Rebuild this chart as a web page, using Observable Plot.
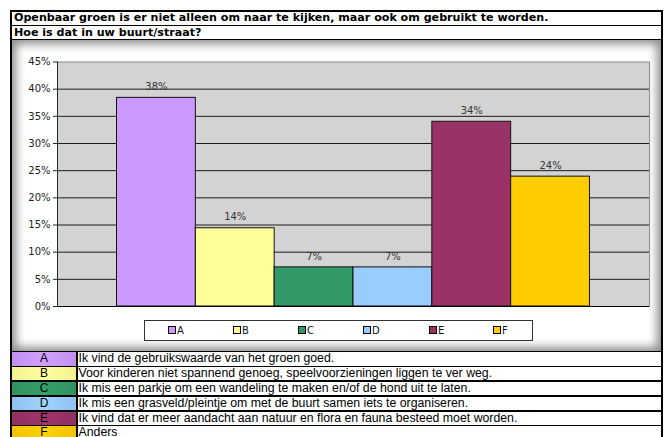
<!DOCTYPE html>
<html><head><meta charset="utf-8">
<script src="https://cdn.jsdelivr.net/npm/d3@7"></script>
<script src="https://cdn.jsdelivr.net/npm/@observablehq/plot@0.6"></script>
<style>
html,body{margin:0;padding:0;background:#fff;}
body{width:667px;height:437px;overflow:hidden;position:relative;font-family:"DejaVu Sans",Verdana,sans-serif;}
.abs{position:absolute;}
#outer{left:10px;top:10px;width:653px;height:440px;background:#000;}
.title{left:12px;width:649px;background:#fff;font-family:"DejaVu Sans",Verdana,sans-serif;font-weight:bold;font-size:11.1px;color:#000;padding-left:2px;box-sizing:border-box;white-space:nowrap;}
#chart{left:12px;top:39.5px;width:649px;height:311px;background:#fff;box-shadow:inset 0 0 10px 4px rgba(0,0,0,.45);}
#plotwrap{left:12px;top:39.5px;}
#legend{left:144px;top:320px;width:389px;height:21px;box-sizing:border-box;border:1px solid #333;background:#fff;}
.litem{position:absolute;top:4px;font-size:10px;line-height:12px;color:#111;white-space:nowrap;}
.sw{display:inline-block;width:6px;height:6px;border:1px solid #000;margin-right:1px;vertical-align:0px;}
.lcell{left:12px;width:64px;text-align:center;font-family:"Liberation Sans",Arial,sans-serif;font-size:12px;color:#000;}
.dcell{left:77.5px;width:583.5px;background:#fff;font-family:"Liberation Sans",Arial,sans-serif;font-size:12.3px;color:#000;padding-left:1px;box-sizing:border-box;white-space:nowrap;}
</style>
</head><body>
<div id="outer" class="abs"></div>
<div id="chart" class="abs"></div>
<div id="plotwrap" class="abs"></div>
<div id="legend" class="abs"></div>
<script>
const titleLines = [
  "Openbaar groen is er niet alleen om naar te kijken, maar ook om gebruikt te worden.",
  "Hoe is dat in uw buurt/straat?"
];
const categories = ["A", "B", "C", "D", "E", "F"];
const values = [0.384, 0.144, 0.072, 0.072, 0.340, 0.239];
const valueLabels = ["38%", "14%", "7%", "7%", "34%", "24%"];
const colors = ["#CC99FF", "#FFFF99", "#339966", "#99CCFF", "#993366", "#FFCC00"];
const descriptions = [
  "Ik vind de gebruikswaarde van het groen goed.",
  "Voor kinderen niet spannend genoeg, speelvoorzieningen liggen te ver weg.",
  "Ik mis een parkje om een wandeling te maken en/of de hond uit te laten.",
  "Ik mis een grasveld/pleintje om met de buurt samen iets te organiseren.",
  "Ik vind dat er meer aandacht aan natuur en flora en fauna besteed moet worden.",
  "Anders"
];
const yTicks = [0, 0.05, 0.10, 0.15, 0.20, 0.25, 0.30, 0.35, 0.40, 0.45];

// Title rows
const titleTops = [12, 25.5];
titleLines.forEach((t, i) => {
  const d = document.createElement("div");
  d.className = "abs title";
  d.style.top = titleTops[i] + "px";
  d.style.height = (i === 0 ? 12.5 : 13) + "px";
  d.style.lineHeight = (i === 0 ? 12.5 : 13) + "px";
  d.textContent = t;
  document.body.appendChild(d);
});

// Chart
const data = categories.map((c, i) => ({cat: c, value: values[i], label: valueLabels[i]}));
const chart = Plot.plot({
  width: 649,
  height: 280,
  marginLeft: 45,
  marginRight: 12,
  marginTop: 21.5,
  marginBottom: 14,
  style: {background: "transparent", fontFamily: "DejaVu Sans, Verdana, sans-serif", fontSize: "10px", color: "#222"},
  x: {domain: categories, paddingInner: 0, paddingOuter: 0.755, round: false, axis: null},
  y: {domain: [0, 0.45], axis: null},
  color: {domain: categories, range: colors},
  marks: [
    Plot.frame({fill: "#d3d3d3", stroke: "#8a8a8a"}),
    Plot.gridY(yTicks.slice(1, -1), {stroke: "#1a1a1a", strokeOpacity: 1}),
    Plot.barY(data, {x: "cat", y: "value", fill: "cat", stroke: "#111", strokeWidth: 1}),
    Plot.text(data, {x: "cat", y: "value", text: "label", dy: -11, fill: "#333"}),
    Plot.ruleY([0], {stroke: "#000"}),
    Plot.frame({anchor: "left", stroke: "#222"}),
    Plot.axisY(yTicks, {tickFormat: d3.format(".0%"), tickSize: 4, tickPadding: 3, label: null, stroke: "#222", fill: "#222"})
  ]
});
document.getElementById("plotwrap").appendChild(chart);

// Legend
const legend = document.getElementById("legend");
const legendX = [23, 88, 153, 218, 284, 348];
categories.forEach((c, i) => {
  const it = document.createElement("div");
  it.className = "litem";
  it.style.left = legendX[i] + "px";
  it.innerHTML = `<span class="sw" style="background:${colors[i]}"></span>${c}`;
  legend.appendChild(it);
});

// Table rows
const rowTop0 = 352.3, rowPitch = 14.8, rowH = 13.4;
categories.forEach((c, i) => {
  const top = rowTop0 + i * rowPitch;
  const l = document.createElement("div");
  l.className = "abs lcell";
  l.style.top = top + "px";
  l.style.height = rowH + "px";
  l.style.lineHeight = rowH + "px";
  const col = d3.color(colors[i]);
  l.style.background = `linear-gradient(to right, ${col.darker(0.15)}, ${col.brighter(0.1)} 50%, ${col.darker(0.15)})`;
  l.textContent = c;
  document.body.appendChild(l);
  const t = document.createElement("div");
  t.className = "abs dcell";
  t.style.top = top + "px";
  t.style.height = rowH + "px";
  t.style.lineHeight = rowH + "px";
  t.textContent = descriptions[i];
  document.body.appendChild(t);
});
</script>
</body></html>
